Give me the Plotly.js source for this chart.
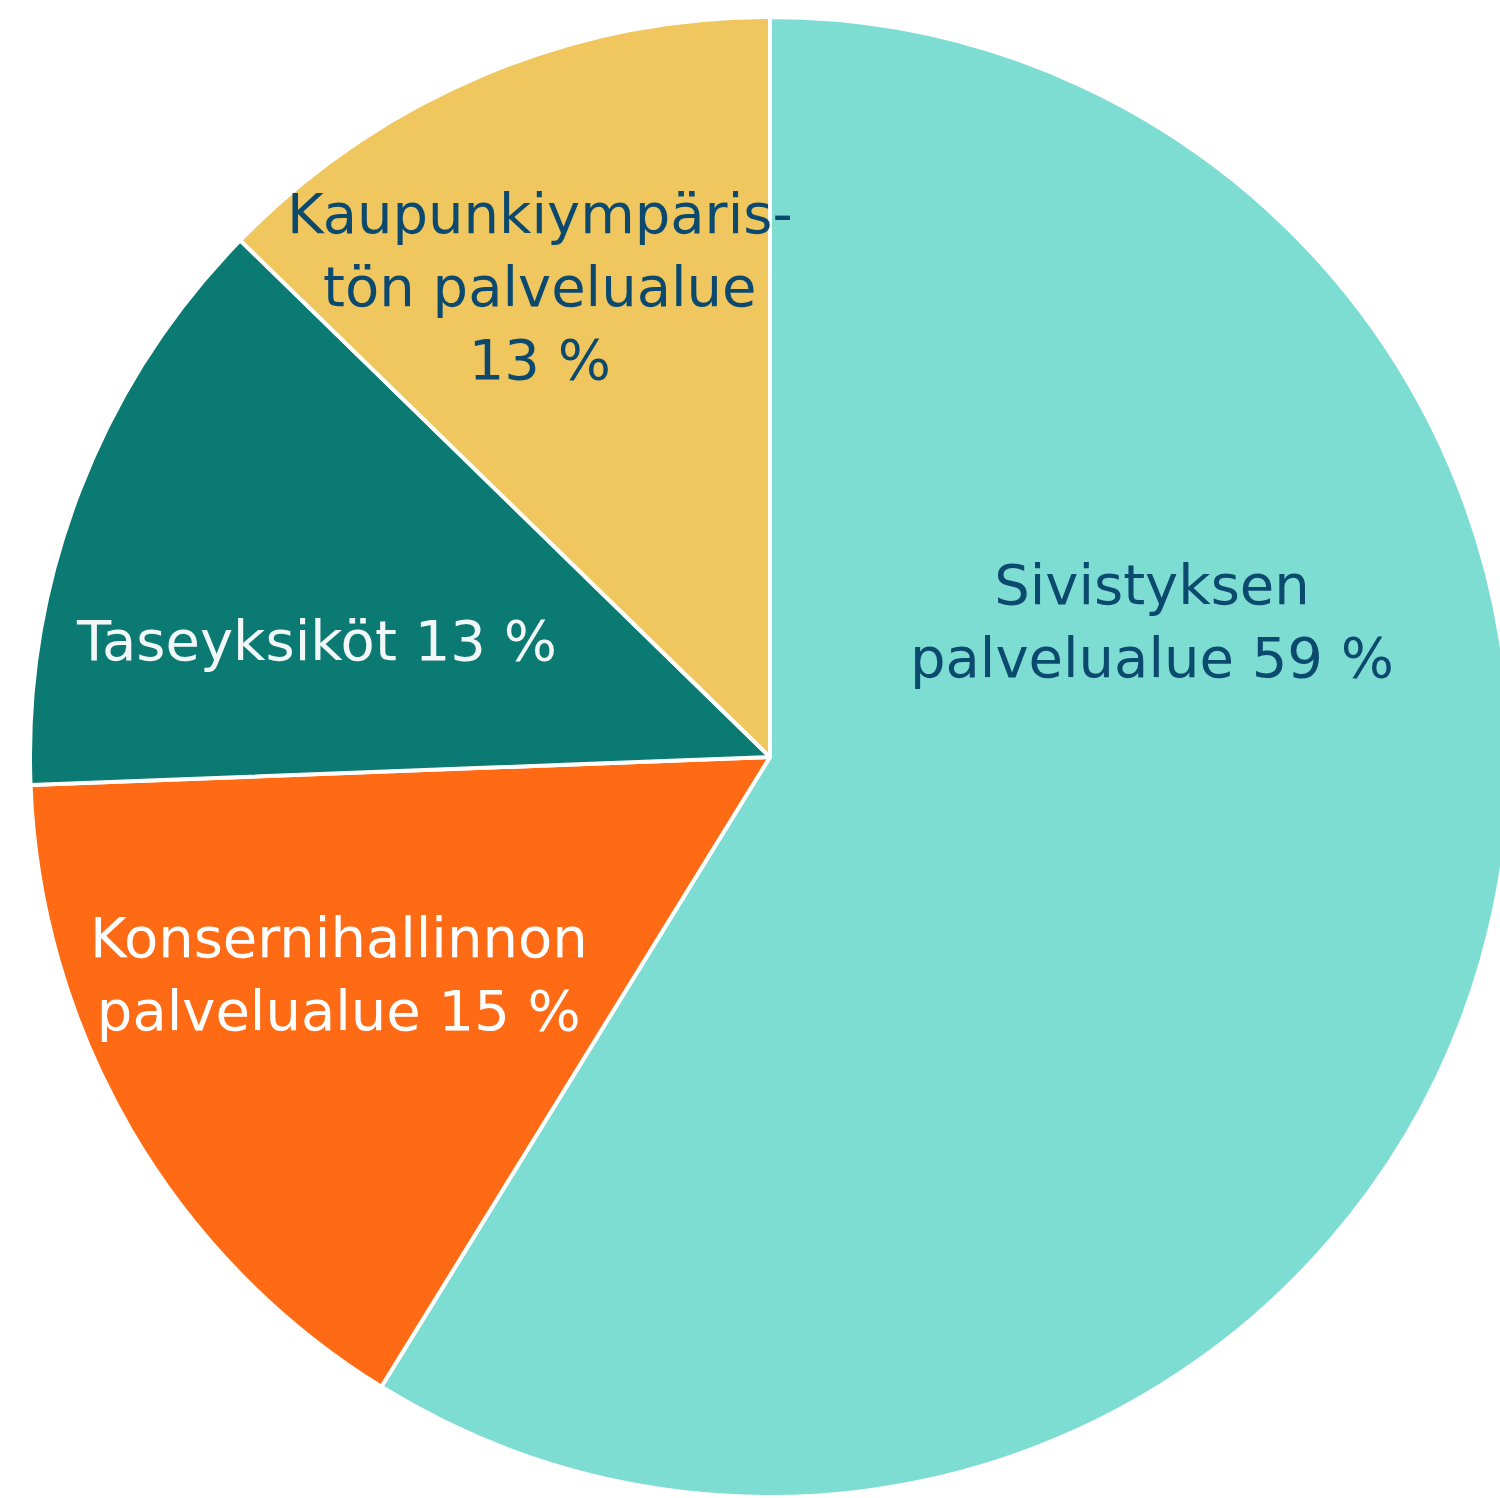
<!DOCTYPE html>
<html>
<head>
<meta charset="utf-8">
<script src="https://cdn.plot.ly/plotly-3.0.1.min.js"></script>
<style>
html,body{margin:0;padding:0;overflow:hidden;background:#fff;}
#chart{width:1540px;height:1498px;}
</style>
</head>
<body>
<div id="chart"></div>
<script>
// Data
const categories = ["Sivistyksen palvelualue", "Konsernihallinnon palvelualue", "Taseyksiköt", "Kaupunkiympäristön palvelualue"];
const values = [58.8, 15.6, 12.9, 12.7];
const percentLabels = ["59 %", "15 %", "13 %", "13 %"];
const labelLines = [
  ["Sivistyksen", "palvelualue " + percentLabels[0]],
  ["Konsernihallinnon", "palvelualue " + percentLabels[1]],
  ["Taseyksiköt " + percentLabels[2]],
  ["Kaupunkiympäris-", "tön palvelualue", percentLabels[3]]
];
const colors = ["#7DDDD2", "#FF6B14", "#0A7A73", "#F0C75F"];
const textColors = ["#0B4A6E", "#FFFFFF", "#F2F7F7", "#0B4A6E"];

const W = 1540, H = 1498;
// label anchor positions in pixels (layout only)
const labelPos = [[1152, 621], [339, 974], [316, 640], [540, 287]];

const annotations = labelLines.map((lines, i) => ({
  text: lines.join("<br>"),
  xref: "paper", yref: "paper",
  x: labelPos[i][0] / W, y: 1 - labelPos[i][1] / H,
  xanchor: "center", yanchor: "middle",
  showarrow: false,
  align: "center",
  font: {family: "DejaVu Sans", size: 56, color: textColors[i]}
}));

const trace = {
  type: "pie",
  labels: categories,
  values: values,
  sort: false,
  direction: "clockwise",
  rotation: 0,
  textinfo: "none",
  hoverinfo: "label+percent",
  marker: {colors: colors, line: {color: "#FFFFFF", width: 4}},
  domain: {x: [0, 1], y: [1 - 1497 / H, 1 - 17 / H]}
};

const layout = {
  width: W, height: H,
  margin: {l: 0, r: 0, t: 0, b: 0},
  paper_bgcolor: "#FFFFFF",
  showlegend: false,
  annotations: annotations
};

Plotly.newPlot("chart", [trace], layout, {displayModeBar: false, staticPlot: true});
</script>
</body>
</html>
